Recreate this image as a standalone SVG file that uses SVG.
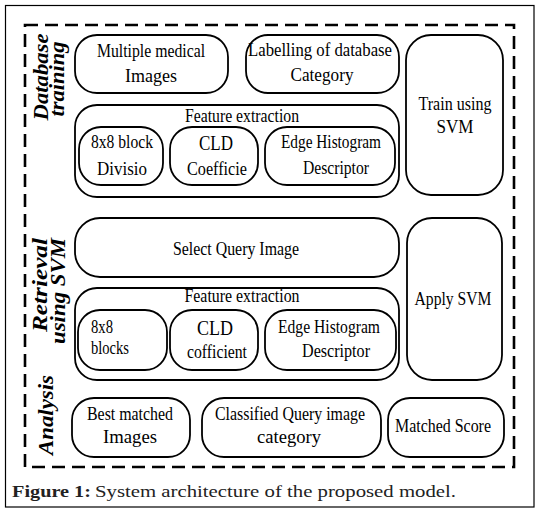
<svg xmlns="http://www.w3.org/2000/svg" width="542" height="516" viewBox="0 0 542 516">
<style>
.box{fill:#fff;stroke:#000;stroke-width:1.8}
.t{font-family:"Liberation Serif","Times New Roman",serif;font-size:19px;fill:#000;text-anchor:middle}
.big{font-size:22px}
.l{text-anchor:start}
.sec{font-family:"Liberation Serif","Times New Roman",serif;font-size:21px;font-weight:bold;font-style:italic;fill:#000;text-anchor:middle}
.cap{font-family:"Liberation Serif","Times New Roman",serif;font-size:17px;fill:#222}
</style>
<rect x="0" y="0" width="542" height="516" fill="#fff"/>
<rect x="5.5" y="5.5" width="528.5" height="501.5" fill="none" stroke="#000" stroke-width="1.2"/>
<rect id="frame" x="25" y="25" width="489" height="442" fill="none" stroke="#000" stroke-width="2.6" stroke-dasharray="13 7"/>

<g id="sections">
<g id="sec-database"><text class="sec" transform="translate(48,77) rotate(-90)" textLength="87" lengthAdjust="spacingAndGlyphs">Database</text><text class="sec" transform="translate(64,79) rotate(-90)" textLength="75" lengthAdjust="spacingAndGlyphs">training</text></g>
<g id="sec-retrieval"><text class="sec" transform="translate(47,285) rotate(-90)" textLength="94" lengthAdjust="spacingAndGlyphs">Retrieval</text><text class="sec" transform="translate(65,291) rotate(-90)" textLength="106" lengthAdjust="spacingAndGlyphs">using SVM</text></g>
<g id="sec-analysis"><text class="sec" transform="translate(53,415) rotate(-90)" textLength="80" lengthAdjust="spacingAndGlyphs">Analysis</text></g>
</g>

<g id="connectors"/>

<g id="n-multiple"><rect class="box" x="75" y="35" width="153" height="58" rx="22"/><text class="t" x="151" y="57" textLength="108" lengthAdjust="spacingAndGlyphs">Multiple medical</text><text class="t" x="151" y="82" textLength="52" lengthAdjust="spacingAndGlyphs">Images</text></g>
<g id="n-labelling"><rect class="box" x="246" y="35" width="153" height="58" rx="22"/><text class="t" x="320" y="56" textLength="144" lengthAdjust="spacingAndGlyphs">Labelling of database</text><text class="t" x="322" y="81" textLength="63" lengthAdjust="spacingAndGlyphs">Category</text></g>
<g id="n-train"><rect class="box" x="406" y="35" width="97" height="160" rx="25"/><text class="t" x="455" y="110" textLength="73" lengthAdjust="spacingAndGlyphs">Train using</text><text class="t" x="455" y="133" textLength="37" lengthAdjust="spacingAndGlyphs">SVM</text></g>

<g id="n-fe1"><rect class="box" x="75" y="105" width="324" height="92" rx="22"/><text class="t" x="242" y="122" textLength="114" lengthAdjust="spacingAndGlyphs">Feature  extraction</text></g>
<g id="n-block1"><rect class="box" x="79" y="127" width="84" height="58" rx="22"/><text class="t" x="122" y="148" textLength="62" lengthAdjust="spacingAndGlyphs">8x8 block</text><text class="t" x="122" y="175" textLength="50" lengthAdjust="spacingAndGlyphs">Divisio</text></g>
<g id="n-cld1"><rect class="box" x="170" y="127" width="88" height="58" rx="22"/><text class="t big" x="216" y="150" textLength="34" lengthAdjust="spacingAndGlyphs">CLD</text><text class="t" x="217" y="175" textLength="60" lengthAdjust="spacingAndGlyphs">Coefficie</text></g>
<g id="n-edge1"><rect class="box" x="265" y="127" width="130" height="58" rx="22"/><text class="t" x="331" y="148" textLength="100" lengthAdjust="spacingAndGlyphs">Edge Histogram</text><text class="t" x="336" y="174" textLength="66" lengthAdjust="spacingAndGlyphs">Descriptor</text></g>

<g id="n-select"><rect class="box" x="75" y="218" width="324" height="59" rx="25"/><text class="t" x="236" y="255" textLength="126" lengthAdjust="spacingAndGlyphs">Select Query Image</text></g>
<g id="n-apply"><rect class="box" x="407" y="218" width="95" height="162" rx="25"/><text class="t" x="453" y="305" textLength="77" lengthAdjust="spacingAndGlyphs">Apply SVM</text></g>

<g id="n-fe2"><rect class="box" x="75" y="288" width="324" height="92" rx="22"/><text class="t" x="242" y="302" textLength="115" lengthAdjust="spacingAndGlyphs">Feature  extraction</text></g>
<g id="n-block2"><rect class="box" x="78" y="310" width="89" height="60" rx="22"/><text class="t l" x="91" y="333" textLength="22" lengthAdjust="spacingAndGlyphs">8x8</text><text class="t l" x="91" y="354" textLength="38" lengthAdjust="spacingAndGlyphs">blocks</text></g>
<g id="n-cld2"><rect class="box" x="170" y="310" width="88" height="60" rx="22"/><text class="t big" x="215" y="335" font-size="25" textLength="36" lengthAdjust="spacingAndGlyphs">CLD</text><text class="t" x="217" y="358" textLength="60" lengthAdjust="spacingAndGlyphs">cofficient</text></g>
<g id="n-edge2"><rect class="box" x="265" y="310" width="131" height="60" rx="22"/><text class="t" x="329" y="333" textLength="102" lengthAdjust="spacingAndGlyphs">Edge Histogram</text><text class="t" x="336" y="357" textLength="68" lengthAdjust="spacingAndGlyphs">Descriptor</text></g>

<g id="n-best"><rect class="box" x="72" y="398" width="118" height="59" rx="22"/><text class="t" x="130" y="420" textLength="86" lengthAdjust="spacingAndGlyphs">Best matched</text><text class="t" x="130" y="443" textLength="54" lengthAdjust="spacingAndGlyphs">Images</text></g>
<g id="n-classified"><rect class="box" x="202" y="398" width="179" height="59" rx="22"/><text class="t" x="290" y="420" textLength="150" lengthAdjust="spacingAndGlyphs">Classified Query image</text><text class="t" x="289" y="443" textLength="64" lengthAdjust="spacingAndGlyphs">category</text></g>
<g id="n-score"><rect class="box" x="388" y="398" width="116" height="59" rx="22"/><text class="t" x="443" y="432" textLength="96" lengthAdjust="spacingAndGlyphs">Matched Score</text></g>

<g id="caption"><text class="cap" x="12" y="497" font-weight="bold" fill="#000" textLength="79" lengthAdjust="spacingAndGlyphs">Figure 1:</text><text class="cap" x="95" y="497" textLength="361" lengthAdjust="spacingAndGlyphs">System architecture of the proposed model.</text></g>
</svg>
